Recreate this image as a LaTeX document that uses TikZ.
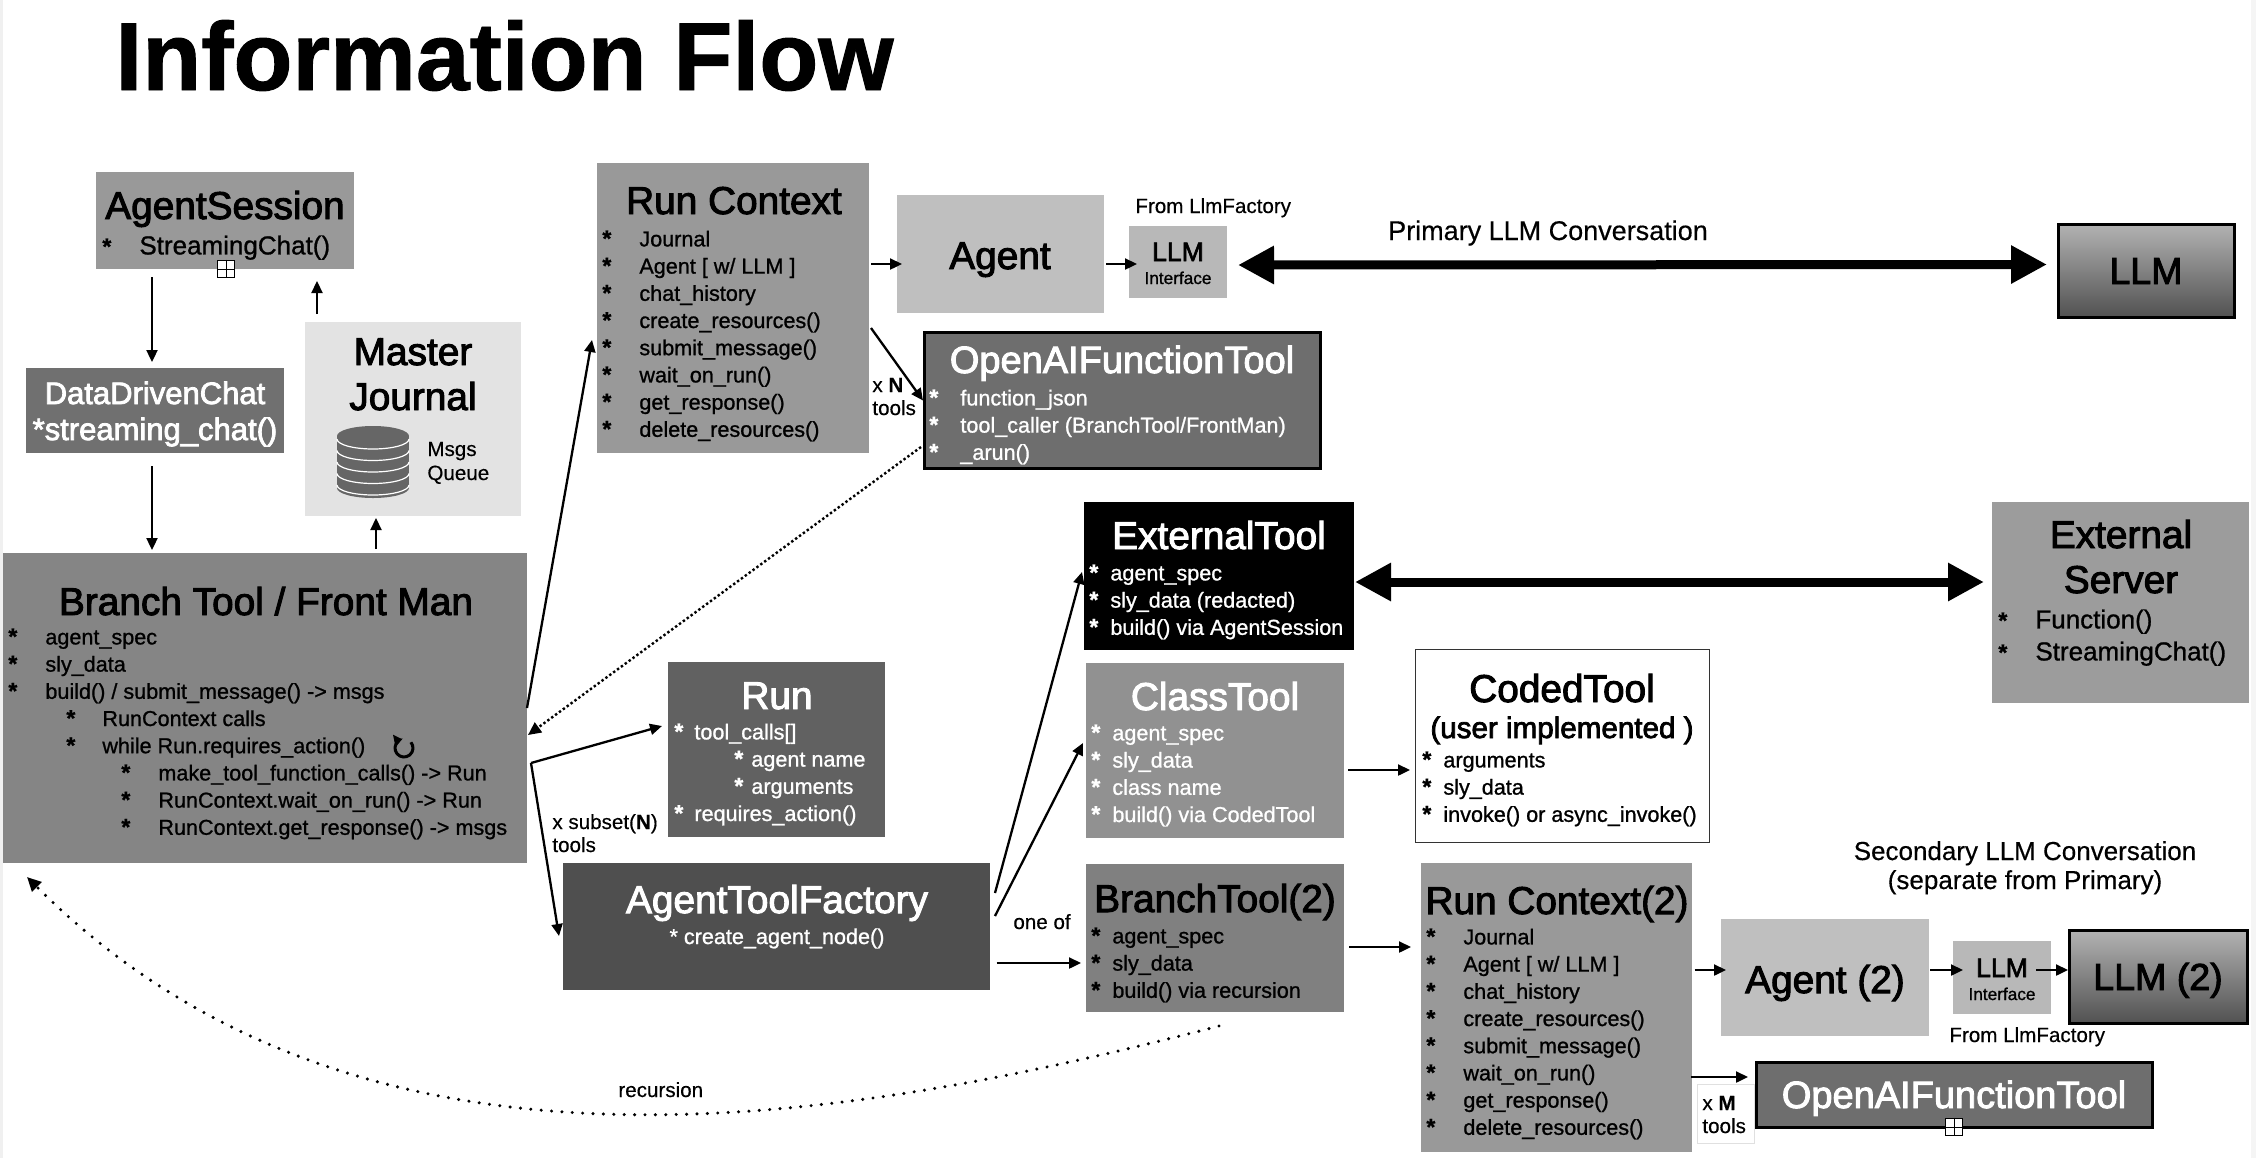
\documentclass[tikz,border=0pt]{standalone}
\usepackage{fontspec}
\setmainfont[FakeBold=1]{Liberation Sans}
\newfontfamily\headfont[FakeBold=2.5]{Liberation Sans}
\newfontfamily\plainfont[FakeBold=0.4]{Liberation Sans}
\usetikzlibrary{arrows.meta}
\newcommand{\bodyline}[3]{\hspace*{#1pt}\makebox[#2pt][l]{\fontsize{11.5}{13.6}\selectfont\bfseries *}\rule{0pt}{10pt}#3\\}
\tikzset{
  card/.style={anchor=north west, inner sep=0pt, outer sep=0pt},
  edged/.style={card, draw=black, line width=1.5pt},
  shaded/.style={edged, top color=black!30, bottom color=black!68},
  titletext/.style={anchor=base, inner sep=0pt, font=\headfont\fontsize{19.4}{23}\selectfont},
  bodytext/.style={anchor=north west, inner sep=0pt, align=left, font=\fontsize{10.8}{13.6}\selectfont},
  bigbody/.style={bodytext, font=\fontsize{13}{16}\selectfont},
  smalltext/.style={anchor=base west, inner sep=0pt, align=left, font=\plainfont\fontsize{10.3}{11.5}\selectfont},
  flow/.style={-{Triangle[length=6pt,width=5.5pt]}, line width=1.15pt},
  bigflow/.style={{Triangle[length=18pt,width=18pt]}-{Triangle[length=18pt,width=18pt]}, line width=4.5pt},
  dotflow/.style={-{Triangle[length=6.5pt,width=6pt]}, line width=1.2pt, dash pattern=on 1.2pt off 1.2pt},
  plusbox/.style={draw=black, fill=white, line width=0.9pt, minimum size=8.5pt, inner sep=0pt}
}
\begin{document}
\begin{tikzpicture}[x=0.5pt,y=-0.5pt]
  \useasboundingbox (0,0) rectangle (2256,1158);
  \fill [white] (0,0) rectangle (2256,1158);
  \fill [black!6] (0,0) rectangle (3,1158);
  \fill [black!4] (2251,0) rectangle (2256,1158);

  \node (pagetitle) [anchor=base west, inner sep=0pt, font=\fontsize{48.3}{56}\selectfont\bfseries] at (115,90) {Information Flow};

  % boxes
  \node (agentsession) [card, fill=black!40, minimum width=129pt, minimum height=48.5pt] at (96,172) {};
  \node (datachat) [card, fill=black!56, minimum width=129pt, minimum height=42.5pt] at (26,368) {};
  \node (master) [card, fill=black!11, minimum width=108pt, minimum height=97pt] at (305,322) {};
  \node (branch) [card, fill=black!48, minimum width=262pt, minimum height=155pt] at (3,553) {};
  \node (runctx) [card, fill=black!40, minimum width=136pt, minimum height=145pt] at (597,163) {};
  \node (agent) [card, fill=black!25, minimum width=103.5pt, minimum height=59pt] at (897,195) {};
  \node (llmif) [card, fill=black!28, minimum width=49pt, minimum height=36pt] at (1129,226) {};
  \node (llm) [shaded, minimum width=88pt, minimum height=46.5pt] at (2058,224) {};
  \node (oaitool) [edged, fill=black!57, minimum width=198pt, minimum height=68pt] at (924,332) {};
  \node (run) [card, fill=black!62, minimum width=108.5pt, minimum height=87.5pt] at (668,662) {};
  \node (exttool) [card, fill=black, minimum width=135pt, minimum height=74pt] at (1084,502) {};
  \node (extserver) [card, fill=black!39, minimum width=128.5pt, minimum height=100.5pt] at (1992,502) {};
  \node (classtool) [card, fill=black!43, minimum width=129pt, minimum height=87.5pt] at (1086,663) {};
  \node (codedtool) [card, draw=black!80, fill=white, line width=0.5pt, minimum width=147pt, minimum height=96.5pt] at (1415,649) {};
  \node (factory) [card, fill=black!69, minimum width=213.5pt, minimum height=63.5pt] at (563,863) {};
  \node (branchtwo) [card, fill=black!50, minimum width=129pt, minimum height=74pt] at (1086,864) {};
  \node (runctxtwo) [card, fill=black!40, minimum width=135.5pt, minimum height=144.5pt] at (1421,863) {};
  \node (agenttwo) [card, fill=black!25, minimum width=104pt, minimum height=58.5pt] at (1721,919) {};
  \node (llmiftwo) [card, fill=black!28, minimum width=49pt, minimum height=36.5pt] at (1953,941) {};
  \node (llmtwo) [shaded, minimum width=89pt, minimum height=46.5pt] at (2069,930) {};
  \node (oaitooltwo) [edged, fill=black!57, minimum width=198pt, minimum height=32.5pt] at (1756,1062) {};
  \node (xmbox) [card, draw=black!12, fill=white, line width=0.5pt, minimum width=28.5pt, minimum height=29.5pt] at (1697,1084) {};

  % titles
  \node (agentsessiontitle) [titletext] at (225,219) {AgentSession};
  \node (datachattitle) [titletext, text=white, font=\headfont\fontsize{15.5}{18}\selectfont] at (155,404) {DataDrivenChat};
  \node (datachatcall) [titletext, text=white, font=\headfont\fontsize{15.5}{18}\selectfont] at (155,440) {*streaming\_chat()};
  \node (mastertitle) [titletext] at (413,365) {Master};
  \node (mastertitleb) [titletext] at (413,410) {Journal};
  \node (branchtitle) [titletext] at (266,615) {Branch Tool / Front Man};
  \node (runctxtitle) [titletext] at (734,214) {Run Context};
  \node (agenttitle) [titletext] at (1000,269) {Agent};
  \node (llmtitle) [titletext, font=\headfont\fontsize{18.8}{22}\selectfont] at (2146,284) {LLM};
  \node (oaititle) [titletext, text=white, font=\headfont\fontsize{19}{22}\selectfont] at (1122,373) {OpenAIFunctionTool};
  \node (runtitle) [titletext, text=white] at (777,709) {Run};
  \node (exttitle) [titletext, text=white] at (1219,549) {ExternalTool};
  \node (servertitle) [titletext] at (2121,548) {External};
  \node (servertitleb) [titletext] at (2121,593) {Server};
  \node (classtitle) [titletext, text=white] at (1215,710) {ClassTool};
  \node (codedtitle) [titletext] at (1562,702) {CodedTool};
  \node (codedsub) [titletext, font=\headfont\fontsize{14.8}{18}\selectfont] at (1562,738) {(user implemented )};
  \node (factorytitle) [titletext, text=white] at (777,913) {AgentToolFactory};
  \node (factorycall) [titletext, text=white, font=\fontsize{10.8}{13}\selectfont] at (777,944) {* create\_agent\_node()};
  \node (branchtwotitle) [titletext] at (1215,912) {BranchTool(2)};
  \node (runctxtwotitle) [titletext] at (1557,914) {Run Context(2)};
  \node (agenttwotitle) [titletext] at (1825,993) {Agent (2)};
  \node (llmtwotitle) [titletext, font=\headfont\fontsize{18.8}{22}\selectfont] at (2158,990) {LLM (2)};
  \node (oaitwotitle) [titletext, text=white, font=\headfont\fontsize{19}{22}\selectfont] at (1954,1108) {OpenAIFunctionTool};
  \node (llmifname) [titletext, font=\headfont\fontsize{13.3}{16}\selectfont] at (1178,261) {LLM};
  \node (llmifsub) [titletext, font=\fontsize{8.6}{10}\selectfont] at (1178,284) {Interface};
  \node (llmiftwoname) [titletext, font=\headfont\fontsize{13.3}{16}\selectfont] at (2002,977) {LLM};
  \node (llmiftwosub) [titletext, font=\fontsize{8.6}{10}\selectfont] at (2002,1000) {Interface};

  % lists
  \node (agentsessionbody) [bigbody] at (102,234) {\bodyline{0}{18.5}{StreamingChat()}};
  \node (branchbody) [bodytext] at (8,624) {
    \bodyline{0}{18.5}{agent\_spec}
    \bodyline{0}{18.5}{sly\_data}
    \bodyline{0}{18.5}{build() / submit\_message() -> msgs}
    \bodyline{29}{18}{RunContext calls}
    \bodyline{29}{18}{while Run.requires\_action()}
    \bodyline{56.5}{18.5}{make\_tool\_function\_calls() -> Run}
    \bodyline{56.5}{18.5}{RunContext.wait\_on\_run() -> Run}
    \bodyline{56.5}{18.5}{RunContext.get\_response() -> msgs}
  };
  \node (runctxbody) [bodytext] at (602,226) {
    \bodyline{0}{18.5}{Journal}
    \bodyline{0}{18.5}{Agent [ w/ LLM ]}
    \bodyline{0}{18.5}{chat\_history}
    \bodyline{0}{18.5}{create\_resources()}
    \bodyline{0}{18.5}{submit\_message()}
    \bodyline{0}{18.5}{wait\_on\_run()}
    \bodyline{0}{18.5}{get\_response()}
    \bodyline{0}{18.5}{delete\_resources()}
  };
  \node (oaibody) [bodytext, text=white] at (929,385) {
    \bodyline{0}{15.5}{function\_json}
    \bodyline{0}{15.5}{tool\_caller (BranchTool/FrontMan)}
    \bodyline{0}{15.5}{\_arun()}
  };
  \node (runbody) [bodytext, text=white] at (674,719) {
    \bodyline{0}{10}{tool\_calls[]}
    \bodyline{30}{8.5}{agent name}
    \bodyline{30}{8.5}{arguments}
    \bodyline{0}{10}{requires\_action()}
  };
  \node (extbody) [bodytext, text=white] at (1089,560) {
    \bodyline{0}{10.5}{agent\_spec}
    \bodyline{0}{10.5}{sly\_data (redacted)}
    \bodyline{0}{10.5}{build() via AgentSession}
  };
  \node (serverbody) [bigbody] at (1998,608) {
    \bodyline{0}{18.5}{Function()}
    \bodyline{0}{18.5}{StreamingChat()}
  };
  \node (classbody) [bodytext, text=white] at (1091,720) {
    \bodyline{0}{10.5}{agent\_spec}
    \bodyline{0}{10.5}{sly\_data}
    \bodyline{0}{10.5}{class name}
    \bodyline{0}{10.5}{build() via CodedTool}
  };
  \node (codedbody) [bodytext] at (1422,747) {
    \bodyline{0}{10.5}{arguments}
    \bodyline{0}{10.5}{sly\_data}
    \bodyline{0}{10.5}{invoke() or async\_invoke()}
  };
  \node (branchtwobody) [bodytext] at (1091,923) {
    \bodyline{0}{10.5}{agent\_spec}
    \bodyline{0}{10.5}{sly\_data}
    \bodyline{0}{10.5}{build() via recursion}
  };
  \node (runctxtwobody) [bodytext] at (1426,924) {
    \bodyline{0}{18.5}{Journal}
    \bodyline{0}{18.5}{Agent [ w/ LLM ]}
    \bodyline{0}{18.5}{chat\_history}
    \bodyline{0}{18.5}{create\_resources()}
    \bodyline{0}{18.5}{submit\_message()}
    \bodyline{0}{18.5}{wait\_on\_run()}
    \bodyline{0}{18.5}{get\_response()}
    \bodyline{0}{18.5}{delete\_resources()}
  };

  % free labels
  \node (msgslabel) [smalltext] at (427,480) {Msgs\\[0.5pt]Queue};
  \node (fromfactory) [smalltext] at (1135,213) {From LlmFactory};
  \node (fromfactorytwo) [smalltext] at (1949,1042) {From LlmFactory};
  \node (xnlabel) [smalltext] at (872,415) {x \textbf{N}\\tools};
  \node (xsubset) [smalltext] at (552,852) {x subset(\textbf{N})\\tools};
  \node (xmlabel) [smalltext] at (1702,1133) {x \textbf{M}\\tools};
  \node (oneof) [smalltext] at (1013,929) {one of};
  \node (reclabel) [smalltext] at (618,1097) {recursion};
  \node (primary) [titletext, font=\plainfont\fontsize{13.5}{16}\selectfont] at (1548,240) {Primary LLM Conversation};
  \node (secondary) [titletext, font=\plainfont\fontsize{13}{16}\selectfont] at (2025,860) {Secondary LLM Conversation};
  \node (secondaryb) [titletext, font=\plainfont\fontsize{13}{16}\selectfont] at (2025,889) {(separate from Primary)};

  % database icon
  \fill [black!60] (337,436) rectangle (409,488);
  \fill [black!60] (373,488) ellipse (36 and 10);
  \foreach \i in {0,...,4}
  {
    \draw [white, line width=0.6pt] (337,439+\i*11.5) arc (180:0:36 and 10);
  }
  \fill [black!60] (373,436) ellipse (36 and 10);

  % loop icon
  \coordinate (loopicon) at (404,748);
  \draw [line width=1.5pt, -{Triangle[length=4pt,width=6pt]}] ([shift={(-40:9)}]loopicon) arc (-40:258:9);

  % plus icons
  \node (asplus) [plusbox] at (226,269) {};
  \draw [line width=0.5pt] (asplus.north) -- (asplus.south) (asplus.west) -- (asplus.east);
  \node (oaiplus) [plusbox] at (1954,1127) {};
  \draw [line width=0.5pt] (oaiplus.north) -- (oaiplus.south) (oaiplus.west) -- (oaiplus.east);

  % connectors
  \draw [flow] ([shift={(-73,8)}]agentsession.south) -- ([shift={(-3,-6)}]datachat.north);
  \draw [flow] ([shift={(-3,13)}]datachat.south) -- ([shift={(-113,-3)}]branch.north);
  \draw [flow] ([shift={(111,-4)}]branch.north) -- ([shift={(-37,2)}]master.south);
  \draw [flow] ([shift={(-96,-8)}]master.north) -- ([shift={(92,12)}]agentsession.south);
  \draw [flow] (branch.east) -- ([shift={(-5,32)}]runctx.west);
  \draw [dotflow] ([shift={(-3,47)}]oaitool.west) -- ([shift={(1,27)}]branch.east);
  \coordinate (forkpt) at ([shift={(4,55)}]branch.east);
  \draw [flow] (forkpt) -- ([shift={(-6,-23.5)}]run.west);
  \draw [flow] (forkpt) -- ([shift={(-4,9.5)}]factory.west);
  \draw [flow] ([shift={(5,-33.5)}]factory.east) -- ([shift={(-2,-4)}]exttool.west);
  \draw [flow] ([shift={(5,-10.5)}]factory.east) -- ([shift={(-3,-7.5)}]classtool.west);
  \draw [flow] ([shift={(6.5,36.5)}]factory.east) -- ([shift={(-5,25)}]branchtwo.west);
  \draw [flow] ([shift={(4,19.5)}]classtool.east) -- ([shift={(-5,24.5)}]codedtool.west);
  \draw [flow] ([shift={(5,9)}]branchtwo.east) -- ([shift={(-10,-60.5)}]runctxtwo.west);
  \draw [flow] ([shift={(2,-44)}]runctx.east) -- ([shift={(5,10)}]agent.west);
  \draw [flow] ([shift={(2,10)}]agent.east) -- ([shift={(8,2)}]llmif.west);
  \draw [flow] ([shift={(2,20)}]runctx.east) -- ([shift={(-1,0.5)}]oaitool.west);
  \draw [bigflow] ([shift={(11,3)}]llmif.east) -- ([shift={(-11,-6)}]llm.west);
  \draw [bigflow] ([shift={(1,6)}]exttool.east) -- ([shift={(-8,-20.5)}]extserver.west);
  \draw [flow] ([shift={(2.5,-37.5)}]runctxtwo.east) -- ([shift={(5,-7.5)}]agenttwo.west);
  \draw [flow] ([shift={(1,-7.5)}]agenttwo.east) -- ([shift={(10,-7.5)}]llmiftwo.west);
  \draw [flow] ([shift={(-15,-7.5)}]llmiftwo.east) -- ([shift={(-1,-6.5)}]llmtwo.west);
  \draw [flow] ([shift={(-1,69.5)}]runctxtwo.east) -- ([shift={(-8,-17.5)}]oaitooltwo.west);
  \draw [-{Triangle[length=7pt,width=6.5pt]}, line width=1.7pt, line cap=round, dash pattern=on 0pt off 5.2pt] ([shift={(4,14)}]branchtwo.south) .. controls (829,1127) and (356,1206) .. ([shift={(-238,14)}]branch.south);
\end{tikzpicture}
\end{document}
